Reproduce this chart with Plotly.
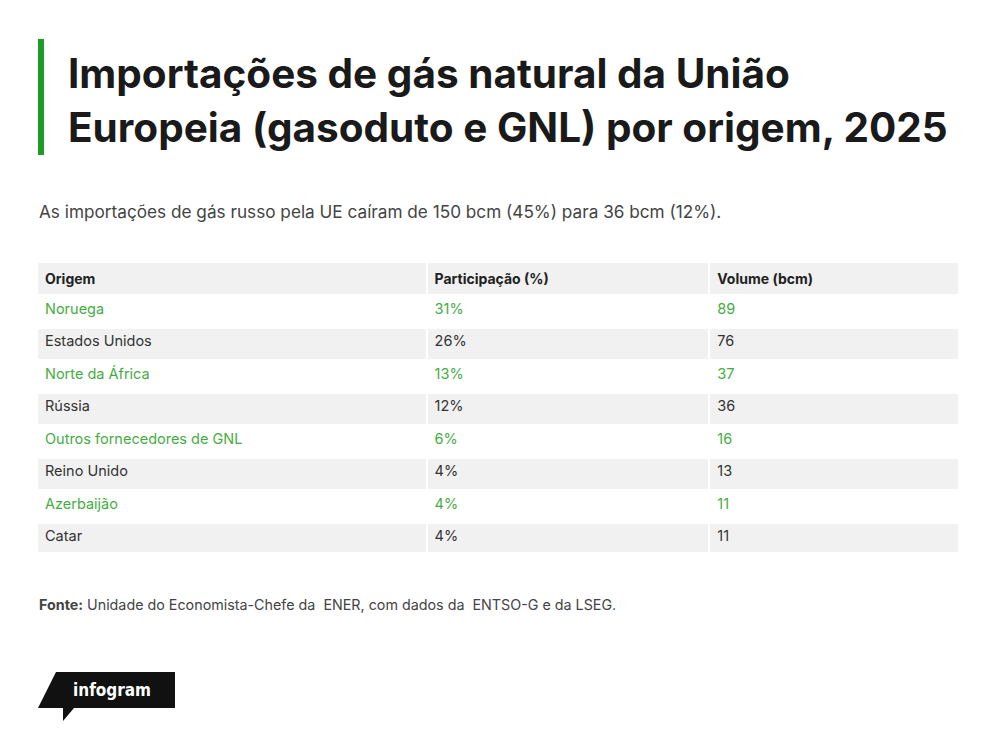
import plotly.graph_objects as go

# table data
origens = ["Noruega", "Estados Unidos", "Norte da África", "Rússia",
           "Outros fornecedores de GNL", "Reino Unido", "Azerbaijão", "Catar"]
participacao = [31, 26, 13, 12, 6, 4, 4, 4]
volume = [89, 76, 37, 36, 16, 13, 11, 11]
colunas = ["Origem", "Participação (%)", "Volume (bcm)"]

W, H = 1000, 741
OFF = 8  # page margin the figure gets shifted by
GREEN = "#45ad3f"
DARK = "#333333"
GREY = "#f1f1f1"


def px(x):
    return (x - OFF) / W


def py(y):
    return 1 - (y - OFF) / H


n = len(origens)
txt_colors = [GREEN if i % 2 == 0 else DARK for i in range(n)]
fills = ["white" if i % 2 == 0 else GREY for i in range(n)]

table = go.Table(
    domain=dict(x=[px(37), px(960)], y=[py(553), py(262)]),
    columnwidth=[390, 283, 250],
    header=dict(
        values=["<b>%s</b>" % c for c in colunas],
        fill_color=GREY,
        line=dict(color="white", width=2),
        align="left",
        height=32,
        font=dict(family="Inter", size=14, color="#222222"),
    ),
    cells=dict(
        values=[origens, ["%d%%" % p for p in participacao], [str(v) for v in volume]],
        fill_color=[fills] * 3,
        line=dict(color="white", width=2),
        align="left",
        height=32.5,
        font=dict(family="Inter", size=14.5, color=[txt_colors] * 3),
    ),
)

fig = go.Figure(table)

# green accent bar next to the title
fig.add_shape(type="rect", xref="paper", yref="paper",
              x0=px(38), x1=px(44), y0=py(155), y1=py(39),
              fillcolor="#1e9b26", line_width=0)

titulo = ["Importações de gás natural da União",
          "Europeia (gasoduto e GNL) por origem, 2025"]
for linha, base in zip(titulo, [91, 145]):
    fig.add_annotation(
        text="<b>%s</b>" % linha,
        xref="paper", yref="paper", x=px(66), y=py(base + 9), xanchor="left", yanchor="bottom",
        align="left", showarrow=False,
        font=dict(family="Inter", size=40.5, color="#1a1a1a"),
    )
fig.add_annotation(
    text="As importações de gás russo pela UE caíram de 150 bcm (45%) para 36 bcm (12%).",
    xref="paper", yref="paper", x=px(37), y=py(212), xanchor="left", yanchor="middle",
    showarrow=False, font=dict(family="Inter", size=17.2, color="#444444"),
)
fig.add_annotation(
    text="<b>Fonte:</b> Unidade do Economista-Chefe da  ENER, com dados da  ENTSO-G e da LSEG.",
    xref="paper", yref="paper", x=px(37), y=py(604), xanchor="left", yanchor="middle",
    showarrow=False, font=dict(family="Inter", size=14.3, color="#444444"),
)

# infogram badge
pts = [(56, 672), (175, 672), (175, 708), (74, 708), (63, 721), (63, 708), (38, 708)]
path = "M " + " L ".join("%f,%f" % (px(x), py(y)) for x, y in pts) + " Z"
fig.add_shape(type="path", xref="paper", yref="paper", path=path,
              fillcolor="#111111", line_width=0)
fig.add_annotation(
    text="<b>infogram</b>", xref="paper", yref="paper", x=px(112), y=py(690),
    xanchor="center", yanchor="middle", showarrow=False,
    font=dict(family="DejaVu Sans Condensed", size=17, color="white"),
)

fig.update_layout(
    width=W, height=H,
    margin=dict(l=0, r=0, t=0, b=0),
    paper_bgcolor="white",
    plot_bgcolor="white",
)

fig.write_html("out.html")
